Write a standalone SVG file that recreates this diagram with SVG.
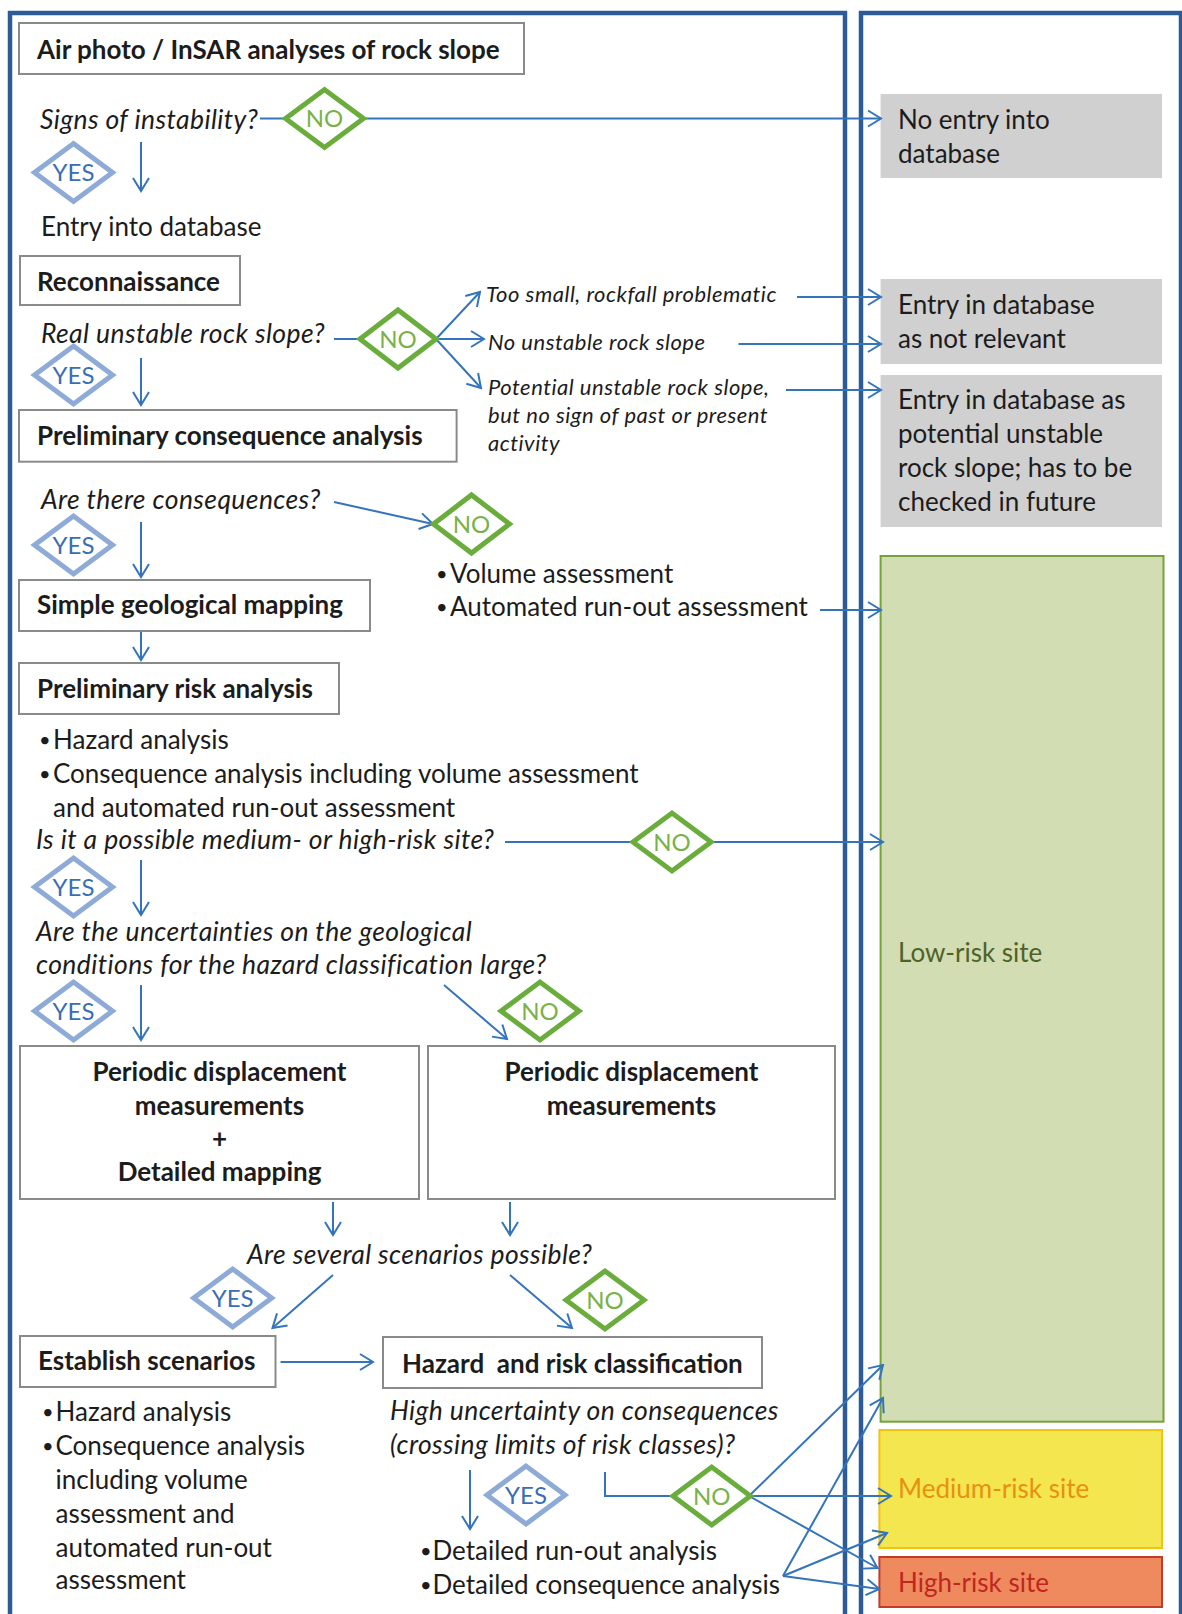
<svg xmlns="http://www.w3.org/2000/svg" width="1182" height="1614" viewBox="0 0 1182 1614">
<style>
text{font-family:Lato,"Open Sans","Liberation Sans",sans-serif;fill:#1c1c1c}
.b{font-weight:bold;font-size:26px}
.r{font-size:26px}
.bu{font-size:20px}
.i{font-style:italic;font-size:26.5px;letter-spacing:0.4px}
.si{font-style:italic;font-size:22px;letter-spacing:0.5px}
.box{fill:#fff;stroke:#8a8a8a;stroke-width:2}
.dno{fill:#fff;stroke:#6aad3d;stroke-width:5;stroke-linejoin:miter}
.dyes{fill:#fff;stroke:#8eaad6;stroke-width:5;stroke-linejoin:miter}
.tno{font-size:24px;fill:#79b24a;text-anchor:middle}
.tyes{font-size:24px;fill:#3a6db5;text-anchor:middle}
.c{fill:none;stroke:#3474bb;stroke-width:2}
.ca{fill:none;stroke:#3474bb;stroke-width:2;marker-end:url(#ah)}
.gray{fill:#d0d0d0}
.mid{text-anchor:middle}
</style>
<defs>
<marker id="ah" viewBox="-15 -10 17 20" refX="0" refY="0" markerWidth="17" markerHeight="20" markerUnits="userSpaceOnUse" orient="auto">
<path d="M-13,-8 L0,0 L-13,8" fill="none" stroke="#3474bb" stroke-width="2"/>
</marker>
</defs>
<rect width="1182" height="1614" fill="#fff"/>
<g id="panels">
<rect x="10" y="13" width="835" height="1640" fill="none" stroke="#2d5b97" stroke-width="4.5"/>
<rect x="861" y="13" width="320" height="1640" fill="none" stroke="#2d5b97" stroke-width="4.5"/>
</g>
<g id="outcomes">
<g id="o-noentry"><rect class="gray" x="880.6" y="94" width="281.4" height="84"/><text class="r" x="898" y="129">No entry into</text><text class="r" x="898" y="163">database</text></g>
<g id="o-notrelevant"><rect class="gray" x="880.6" y="279" width="281.4" height="85"/><text class="r" x="898" y="314">Entry in database</text><text class="r" x="898" y="348">as not relevant</text></g>
<g id="o-potential"><rect class="gray" x="880.6" y="375" width="281.4" height="152"/><text class="r" x="898" y="409">Entry in database as</text><text class="r" x="898" y="443">potential unstable</text><text class="r" x="898" y="477">rock slope; has to be</text><text class="r" x="898" y="511">checked in future</text></g>
<g id="o-low"><rect x="880.6" y="556" width="282.9" height="865.7" fill="#d2ddb3" stroke="#76a23b" stroke-width="2"/><text class="r" x="898" y="962" style="fill:#4f6228">Low-risk site</text></g>
<g id="o-medium"><rect x="879.4" y="1430" width="282.6" height="118" fill="#f4e64f" stroke="#f2c311" stroke-width="2"/><text class="r" x="898" y="1498" style="fill:#e8900f">Medium-risk site</text></g>
<g id="o-high"><rect x="879.4" y="1557" width="282.6" height="50" fill="#ef8a5f" stroke="#c43b2a" stroke-width="2"/><text class="r" x="898" y="1592" style="fill:#c0261e">High-risk site</text></g>
</g>
<g id="connectors">
<path class="c" d="M260,118.5 H284.5"/>
<path class="ca" d="M364.5,118.5 H881"/>
<path class="ca" d="M141,142 V191"/>
<path class="c" d="M334,339 H360"/>
<path class="ca" d="M436,339 L480,292"/>
<path class="ca" d="M436,339 H484"/>
<path class="ca" d="M436,339 L481,388"/>
<path class="ca" d="M797,297 H881"/>
<path class="ca" d="M738.5,344 H881"/>
<path class="ca" d="M786,390 H881"/>
<path class="ca" d="M141,358 V405"/>
<path class="ca" d="M334,502 L433,524"/>
<path class="ca" d="M141,522 V577"/>
<path class="ca" d="M820,610 H881"/>
<path class="ca" d="M141,631 V660"/>
<path class="c" d="M505,842 H633"/>
<path class="ca" d="M711,842 H883"/>
<path class="ca" d="M141,860 V915"/>
<path class="ca" d="M141,985 V1040"/>
<path class="ca" d="M444,985 L507,1039"/>
<path class="ca" d="M333,1202 V1235"/>
<path class="ca" d="M510,1202 V1235"/>
<path class="ca" d="M333,1275 L272.5,1328"/>
<path class="ca" d="M510,1275 L572,1328"/>
<path class="ca" d="M280.5,1362 H373"/>
<path class="ca" d="M470,1470 V1529"/>
<path class="c" d="M605,1472 V1496 H674"/>
<path class="ca" d="M749,1496 L883,1365"/>
<path class="ca" d="M749,1496 H891"/>
<path class="ca" d="M749,1496 L877.5,1568"/>
<path class="ca" d="M783,1576 L883,1398"/>
<path class="ca" d="M783,1576 L887,1533"/>
<path class="ca" d="M783,1576 L879.4,1589"/>
</g>
<g id="n-airphoto"><rect class="box" x="19" y="23" width="505" height="51"/><text class="b" x="37" y="59">Air photo / InSAR analyses of rock slope</text></g>
<g id="q-signs"><text class="i" x="40" y="129">Signs of instability?</text></g>
<g id="d-no1"><path class="dno" d="M285.5,118.5 L324.5,89.5 L363.5,118.5 L324.5,147.5 Z"/><text class="tno" x="324.5" y="127">NO</text></g>
<g id="d-yes1"><path class="dyes" d="M34.5,172.5 L73.5,143.5 L112.5,172.5 L73.5,201.5 Z"/><text class="tyes" x="73.5" y="181">YES</text></g>
<g id="t-entry"><text class="r" x="41" y="236">Entry into database</text></g>
<g id="n-recon"><rect class="box" x="20" y="256" width="220" height="49"/><text class="b" x="37" y="291">Reconnaissance</text></g>
<g id="q-real"><text class="i" x="41" y="343">Real unstable rock slope?</text></g>
<g id="d-no2"><path class="dno" d="M360,339 L398,310 L436,339 L398,368 Z"/><text class="tno" x="398" y="347.5">NO</text></g>
<g id="t-toosmall"><text class="si" x="486" y="302">Too small, rockfall problematic</text></g>
<g id="t-nounstable"><text class="si" x="488" y="350">No unstable rock slope</text></g>
<g id="t-potential"><text class="si" x="488" y="395">Potential unstable rock slope,</text><text class="si" x="488" y="423">but no sign of past or present</text><text class="si" x="488" y="451">activity</text></g>
<g id="d-yes2"><path class="dyes" d="M34.5,375 L73.5,346 L112.5,375 L73.5,404 Z"/><text class="tyes" x="73.5" y="383.5">YES</text></g>
<g id="n-prelimcons"><rect class="box" x="19" y="410" width="437.6" height="51.7"/><text class="b" x="37" y="445">Preliminary consequence analysis</text></g>
<g id="q-conseq"><text class="i" x="41" y="509">Are there consequences?</text></g>
<g id="d-no3"><path class="dno" d="M433.5,524 L471.5,495 L509.5,524 L471.5,553 Z"/><text class="tno" x="471.5" y="532.5">NO</text></g>
<g id="d-yes3"><path class="dyes" d="M34.5,545 L73.5,516 L112.5,545 L73.5,574 Z"/><text class="tyes" x="73.5" y="553.5">YES</text></g>
<g id="t-volume"><text class="bu" x="436" y="581">•</text><text class="r" x="450" y="583">Volume assessment</text><text class="bu" x="436" y="614">•</text><text class="r" x="450" y="616">Automated run-out assessment</text></g>
<g id="n-simple"><rect class="box" x="19" y="580" width="351" height="51"/><text class="b" x="37" y="614">Simple geological mapping</text></g>
<g id="n-prelimrisk"><rect class="box" x="19" y="663" width="320" height="51"/><text class="b" x="37" y="698">Preliminary risk analysis</text></g>
<g id="t-prelimrisk"><text class="bu" x="39" y="747">•</text><text class="r" x="53" y="749">Hazard analysis</text><text class="bu" x="39" y="781">•</text><text class="r" x="53" y="783">Consequence analysis including volume assessment</text><text class="r" x="53" y="817">and automated run-out assessment</text></g>
<g id="q-medhigh"><text class="i" x="36" y="849">Is it a possible medium- or high-risk site?</text></g>
<g id="d-no4"><path class="dno" d="M633,842 L672,813 L711,842 L672,871 Z"/><text class="tno" x="672" y="850.5">NO</text></g>
<g id="d-yes4"><path class="dyes" d="M34.5,887 L73.5,858 L112.5,887 L73.5,916 Z"/><text class="tyes" x="73.5" y="895.5">YES</text></g>
<g id="q-uncert"><text class="i" x="36" y="941">Are the uncertainties on the geological</text><text class="i" x="36" y="974">conditions for the hazard classification large?</text></g>
<g id="d-yes5"><path class="dyes" d="M34.5,1011 L73.5,982 L112.5,1011 L73.5,1040 Z"/><text class="tyes" x="73.5" y="1019.5">YES</text></g>
<g id="d-no5"><path class="dno" d="M501,1011 L540,982 L579,1011 L540,1040 Z"/><text class="tno" x="540" y="1019.5">NO</text></g>
<g id="n-periodic1"><rect class="box" x="20" y="1046" width="399" height="153"/><text class="b mid" x="219.5" y="1081">Periodic displacement</text><text class="b mid" x="219.5" y="1115">measurements</text><text class="b mid" x="219.5" y="1148">+</text><text class="b mid" x="219.5" y="1181">Detailed mapping</text></g>
<g id="n-periodic2"><rect class="box" x="428" y="1046" width="407" height="153"/><text class="b mid" x="631.5" y="1081">Periodic displacement</text><text class="b mid" x="631.5" y="1115">measurements</text></g>
<g id="q-scen"><text class="i" x="247" y="1264">Are several scenarios possible?</text></g>
<g id="d-yes6"><path class="dyes" d="M193.7,1298 L232.7,1269 L271.7,1298 L232.7,1327 Z"/><text class="tyes" x="232.7" y="1306.5">YES</text></g>
<g id="d-no6"><path class="dno" d="M566,1300 L605,1271 L644,1300 L605,1329 Z"/><text class="tno" x="605" y="1308.5">NO</text></g>
<g id="n-establish"><rect class="box" x="20" y="1336" width="255.5" height="51"/><text class="b" x="38" y="1370">Establish scenarios</text></g>
<g id="n-hazrisk"><rect class="box" x="383" y="1337" width="379" height="51"/><text class="b" x="402" y="1373" xml:space="preserve">Hazard  and risk classification</text></g>
<g id="t-establish"><text class="bu" x="42" y="1419">•</text><text class="r" x="55.5" y="1421">Hazard analysis</text><text class="bu" x="42" y="1453">•</text><text class="r" x="55.5" y="1455">Consequence analysis</text><text class="r" x="55.5" y="1489">including volume</text><text class="r" x="55.5" y="1523">assessment and</text><text class="r" x="55.5" y="1557">automated run-out</text><text class="r" x="55.5" y="1589">assessment</text></g>
<g id="q-high"><text class="i" x="390" y="1420">High uncertainty on consequences</text><text class="i" x="390" y="1454">(crossing limits of risk classes)?</text></g>
<g id="d-yes7"><path class="dyes" d="M487,1495 L526,1466 L565,1495 L526,1524 Z"/><text class="tyes" x="526" y="1503.5">YES</text></g>
<g id="d-no7"><path class="dno" d="M673,1496 L711.7,1467 L750.4,1496 L711.7,1525 Z"/><text class="tno" x="711.7" y="1504.5">NO</text></g>
<g id="t-detailed"><text class="bu" x="420" y="1558">•</text><text class="r" x="432.5" y="1560">Detailed run-out analysis</text><text class="bu" x="420" y="1592">•</text><text class="r" x="432.5" y="1594">Detailed consequence analysis</text></g>
</svg>
